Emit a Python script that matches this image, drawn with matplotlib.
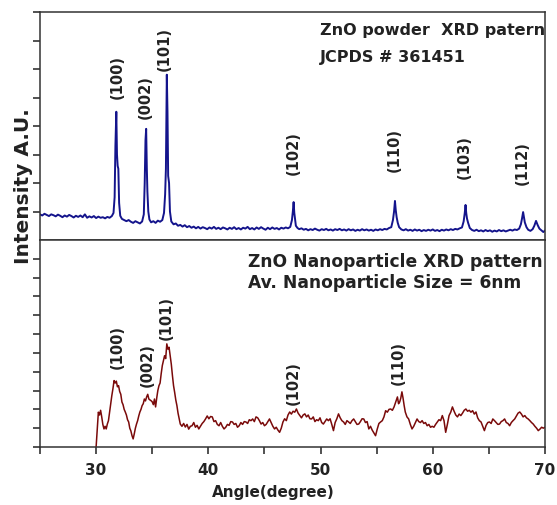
import matplotlib
matplotlib.use("Agg")
import matplotlib.pyplot as plt

# ---------------- data ----------------
top_x = [25.0, 25.2, 25.4, 25.6, 25.8, 26.0, 26.2, 26.4, 26.6, 26.8, 27.0, 27.2, 27.4, 27.6, 27.8,
         28.0, 28.2, 28.4, 28.6, 28.8, 29.0, 29.2, 29.4, 29.6, 29.8, 30.0, 30.2, 30.4, 30.6, 30.8,
         31.0, 31.2, 31.4, 31.55, 31.65, 31.72, 31.80, 31.86, 31.92, 31.98, 32.05, 32.15, 32.3, 32.5,
         32.7, 32.9, 33.1, 33.3, 33.5, 33.7, 33.9, 34.1, 34.25, 34.33, 34.40, 34.46, 34.52, 34.57,
         34.65, 34.75, 34.9, 35.1, 35.3, 35.5, 35.7, 35.9, 36.05, 36.15, 36.22, 36.30, 36.36, 36.42,
         36.50, 36.58, 36.7, 36.9, 37.1, 37.3, 37.5, 37.7, 37.9, 38.1, 38.3, 38.5, 38.7, 38.9, 39.1,
         39.3, 39.5, 39.7, 39.9, 40.1, 40.3, 40.5, 40.7, 40.9, 41.1, 41.3, 41.5, 41.7, 41.9, 42.1,
         42.3, 42.5, 42.7, 42.9, 43.1, 43.3, 43.5, 43.7, 43.9, 44.1, 44.3, 44.5, 44.7, 44.9, 45.1,
         45.3, 45.5, 45.7, 45.9, 46.1, 46.3, 46.5, 46.7, 46.9, 47.1, 47.3, 47.45, 47.53, 47.60, 47.66,
         47.72, 47.80, 47.95, 48.1, 48.3, 48.5, 48.7, 48.9, 49.1, 49.3, 49.5, 49.7, 49.9, 50.1, 50.3,
         50.5, 50.7, 50.9, 51.1, 51.3, 51.5, 51.7, 51.9, 52.1, 52.3, 52.5, 52.7, 52.9, 53.1, 53.3,
         53.5, 53.7, 53.9, 54.1, 54.3, 54.5, 54.7, 54.9, 55.1, 55.3, 55.5, 55.7, 55.9, 56.1, 56.3,
         56.45, 56.55, 56.63, 56.70, 56.78, 56.88, 57.0, 57.2, 57.4, 57.6, 57.8, 58.0, 58.2, 58.4,
         58.6, 58.8, 59.0, 59.2, 59.4, 59.6, 59.8, 60.0, 60.2, 60.4, 60.6, 60.8, 61.0, 61.2, 61.4,
         61.6, 61.8, 62.0, 62.2, 62.4, 62.6, 62.75, 62.85, 62.92, 62.98, 63.05, 63.15, 63.3, 63.5,
         63.7, 63.9, 64.1, 64.3, 64.5, 64.7, 64.9, 65.1, 65.3, 65.5, 65.7, 65.9, 66.1, 66.3, 66.5,
         66.7, 66.9, 67.1, 67.3, 67.5, 67.7, 67.85, 67.95, 68.05, 68.12, 68.2, 68.35, 68.5, 68.7,
         68.9, 69.05, 69.2, 69.35, 69.5, 69.7, 69.85, 70.0]
top_y = [0.90, 0.86, 0.92, 0.88, 0.84, 0.90, 0.87, 0.83, 0.89, 0.85, 0.80, 0.86, 0.82, 0.88, 0.84,
         0.79, 0.85, 0.81, 0.86, 0.80, 0.90, 0.78, 0.83, 0.79, 0.84, 0.77, 0.82, 0.78, 0.80, 0.76,
         0.81, 0.78, 0.84, 0.95, 1.50, 3.30, 4.50, 3.00, 2.60, 2.50, 1.30, 0.85, 0.74, 0.70,
         0.66, 0.70, 0.64, 0.60, 0.66, 0.62, 0.58, 0.65, 0.90, 2.00, 3.50, 3.90, 2.50, 1.70,
         1.00, 0.72, 0.62, 0.66, 0.60, 0.68, 0.64, 0.70, 0.95, 1.60, 2.50, 5.80, 4.50, 2.25,
         2.00, 1.00, 0.65, 0.55, 0.58, 0.50, 0.53, 0.47, 0.52, 0.45, 0.49, 0.43, 0.47, 0.41, 0.46,
         0.40, 0.45, 0.42, 0.38, 0.44, 0.40, 0.46, 0.39, 0.43, 0.38, 0.44, 0.41, 0.37, 0.43, 0.39,
         0.45, 0.38, 0.42, 0.37, 0.43, 0.40, 0.46, 0.38, 0.42, 0.37, 0.44, 0.39, 0.45, 0.40, 0.36,
         0.43, 0.38, 0.44, 0.39, 0.42, 0.37, 0.43, 0.40, 0.44, 0.41, 0.46, 0.70, 1.00, 1.33, 0.95,
         0.75, 0.50, 0.42, 0.38, 0.41, 0.36, 0.39, 0.34, 0.38, 0.35, 0.40, 0.36, 0.33, 0.38, 0.35,
         0.39, 0.34, 0.37, 0.33, 0.38, 0.35, 0.39, 0.34, 0.37, 0.33, 0.38, 0.34, 0.37, 0.32, 0.36,
         0.33, 0.38, 0.34, 0.37, 0.33, 0.36, 0.32, 0.37, 0.34, 0.38, 0.35, 0.39, 0.37, 0.42, 0.45,
         0.70, 1.00, 1.37, 1.05, 0.80, 0.60, 0.45, 0.37, 0.34, 0.38, 0.33, 0.36, 0.32, 0.37,
         0.33, 0.36, 0.31, 0.35, 0.32, 0.36, 0.33, 0.37, 0.32, 0.35, 0.31, 0.36, 0.33, 0.37, 0.34,
         0.38, 0.35, 0.39, 0.37, 0.41, 0.44, 0.65, 0.95, 1.23, 0.95, 0.75, 0.60, 0.42, 0.35,
         0.32, 0.36, 0.31, 0.34, 0.30, 0.35, 0.31, 0.34, 0.29, 0.33, 0.30, 0.35, 0.31, 0.34, 0.30,
         0.33, 0.36, 0.33, 0.37, 0.35, 0.40, 0.55, 0.75, 0.98, 0.80, 0.62, 0.45, 0.36, 0.32,
         0.38, 0.50, 0.67, 0.52, 0.40, 0.33, 0.28, 0.33]

bot_x = [30.00, 30.10, 30.20, 30.30, 30.40, 30.50, 30.60, 30.70, 30.80, 30.90, 31.00, 31.10, 31.20,
         31.30, 31.40, 31.50, 31.60, 31.70, 31.80, 31.90, 32.00, 32.10, 32.20, 32.30, 32.40, 32.50,
         32.60, 32.70, 32.80, 32.90, 33.00, 33.10, 33.20, 33.30, 33.40, 33.50, 33.60, 33.70, 33.80,
         33.90, 34.00, 34.10, 34.20, 34.30, 34.40, 34.50, 34.60, 34.70, 34.80, 34.90, 35.00, 35.10,
         35.20, 35.30, 35.40, 35.50, 35.60, 35.70, 35.80, 35.90, 36.00, 36.10, 36.20, 36.30, 36.40,
         36.50, 36.60, 36.70, 36.80, 36.90, 37.00, 37.10, 37.20, 37.30, 37.40, 37.50, 37.65, 37.80,
         37.95, 38.10, 38.25, 38.40, 38.55, 38.70, 38.85, 39.00, 39.15, 39.30, 39.45, 39.60, 39.75,
         39.90, 40.05, 40.20, 40.35, 40.50, 40.65, 40.80, 40.95, 41.10, 41.25, 41.40, 41.55, 41.70,
         41.85, 42.00, 42.15, 42.30, 42.45, 42.60, 42.75, 42.90, 43.05, 43.20, 43.35, 43.50, 43.65,
         43.80, 43.95, 44.10, 44.25, 44.40, 44.55, 44.70, 44.85, 45.00, 45.15, 45.30, 45.45, 45.60,
         45.75, 45.90, 46.05, 46.20, 46.35, 46.50, 46.65, 46.80, 46.95, 47.10, 47.25, 47.40, 47.55,
         47.70, 47.85, 48.00, 48.15, 48.30, 48.45, 48.60, 48.75, 48.90, 49.05, 49.20, 49.35, 49.50,
         49.65, 49.80, 49.95, 50.10, 50.25, 50.40, 50.55, 50.70, 50.85, 51.00, 51.15, 51.30, 51.45,
         51.60, 51.75, 51.90, 52.05, 52.20, 52.35, 52.50, 52.65, 52.80, 52.95, 53.10, 53.25, 53.40,
         53.55, 53.70, 53.85, 54.00, 54.15, 54.30, 54.45, 54.60, 54.75, 54.90, 55.05, 55.20, 55.35,
         55.50, 55.65, 55.80, 55.95, 56.10, 56.25, 56.40, 56.55, 56.70, 56.85, 56.95, 57.05, 57.15,
         57.25, 57.35, 57.45, 57.55, 57.70, 57.85, 58.00, 58.15, 58.30, 58.45, 58.60, 58.75, 58.90,
         59.05, 59.20, 59.35, 59.50, 59.65, 59.80, 59.95, 60.10, 60.25, 60.40, 60.55, 60.70, 60.85,
         61.00, 61.15, 61.30, 61.45, 61.60, 61.75, 61.90, 62.05, 62.20, 62.35, 62.50, 62.65, 62.80,
         62.95, 63.10, 63.25, 63.40, 63.55, 63.70, 63.85, 64.00, 64.15, 64.30, 64.45, 64.60, 64.75,
         64.90, 65.05, 65.20, 65.35, 65.50, 65.65, 65.80, 65.95, 66.10, 66.25, 66.40, 66.55, 66.70,
         66.85, 67.00, 67.15, 67.30, 67.45, 67.60, 67.75, 67.90, 68.05, 68.20, 68.35, 68.50, 68.65,
         68.80, 68.95, 69.10, 69.25, 69.40, 69.55, 69.70, 69.85, 70.00]
bot_y = [0.00, 0.90, 1.85, 1.70, 1.95, 1.60, 1.20, 0.96, 1.10, 0.96, 1.22, 1.40, 1.85,
         2.30, 2.73, 3.10, 3.53, 3.40, 3.50, 3.20, 3.26, 2.95, 2.80, 2.39, 2.25, 2.00,
         1.86, 1.70, 1.45, 1.33, 1.00, 0.85, 0.60, 0.43, 0.70, 1.00, 1.22, 1.40, 1.65,
         1.86, 2.00, 2.20, 2.30, 2.55, 2.45, 2.66, 2.80, 2.55, 2.50, 2.46, 2.40, 2.25,
         2.55, 2.13, 2.60, 3.00, 3.26, 3.40, 3.90, 4.33, 4.60, 4.85, 4.70, 5.48, 5.20,
         5.30, 4.86, 4.40, 3.80, 3.26, 2.90, 2.50, 2.20, 1.80, 1.50, 1.22, 1.10, 1.25,
         1.06, 1.20, 0.95, 1.10, 1.13, 1.30, 1.05, 1.15, 0.96, 1.10, 1.25, 1.35, 1.49,
         1.65, 1.50, 1.62, 1.60, 1.35, 1.40, 1.20, 1.13, 1.30, 1.10, 0.96, 1.05, 1.20,
         1.15, 1.35, 1.33, 1.20, 1.25, 1.05, 1.13, 1.30, 1.20, 1.35, 1.33, 1.25, 1.45,
         1.40, 1.49, 1.35, 1.60, 1.55, 1.40, 1.22, 1.30, 1.13, 1.20, 1.35, 1.49, 1.30,
         1.10, 0.96, 1.05, 0.90, 0.78, 1.00, 1.33, 1.50, 1.40, 1.70, 1.86, 1.75, 1.90,
         1.85, 2.02, 1.80, 1.67, 1.55, 1.70, 1.76, 1.60, 1.70, 1.50, 1.49, 1.60, 1.35,
         1.45, 1.40, 1.55, 1.30, 1.22, 1.35, 1.49, 1.40, 1.50, 1.20, 0.87, 1.30, 1.50,
         1.76, 1.55, 1.40, 1.33, 1.20, 1.40, 1.33, 1.25, 1.40, 1.49, 1.35, 1.20, 1.22,
         1.35, 1.50, 1.49, 1.30, 1.35, 0.96, 1.10, 0.90, 0.75, 0.60, 0.95, 1.25, 1.33,
         1.40, 1.60, 1.93, 1.85, 2.00, 2.02, 1.95, 2.13, 2.40, 2.66, 2.30, 2.39, 2.60,
         2.93, 2.60, 2.20, 1.86, 1.60, 1.49, 1.20, 0.96, 1.10, 1.30, 1.49, 1.35, 1.30,
         1.40, 1.25, 1.30, 1.13, 1.20, 1.05, 1.10, 1.05, 1.20, 1.33, 1.45, 1.40, 1.67,
         1.40, 0.78, 1.20, 1.67, 1.85, 2.13, 1.90, 1.70, 1.60, 1.75, 1.67, 1.80, 1.95,
         2.02, 1.90, 1.95, 1.85, 1.93, 1.75, 1.86, 1.55, 1.40, 1.33, 1.10, 0.87, 1.15,
         1.30, 1.33, 1.25, 1.49, 1.40, 1.30, 1.20, 1.22, 1.35, 1.40, 1.49, 1.30, 1.25,
         1.13, 1.30, 1.40, 1.49, 1.65, 1.80, 1.86, 1.75, 1.60, 1.67, 1.55, 1.49, 1.40,
         1.30, 1.22, 1.10, 1.00, 0.87, 0.95, 1.05, 1.00, 1.05]

top_labels = ["(100)", "(002)", "(101)", "(102)", "(110)", "(103)", "(112)"]
top_label_x = [31.9, 34.4, 36.1, 47.6, 56.6, 62.8, 68.0]
top_label_y = [5.75, 5.05, 6.74, 3.09, 3.19, 2.95, 2.74]

bot_labels = ["(100)", "(002)", "(101)", "(102)", "(110)"]
bot_label_x = [31.9, 34.55, 36.25, 47.6, 56.96]
bot_label_y = [5.37, 4.41, 6.91, 3.46, 4.52]

x_major = [30, 40, 50, 60, 70]
x_minor = [25, 35, 45, 55, 65]

# ---------------- figure ----------------
plt.rcParams['font.family'] = ['DejaVu Sans']
TXT = '#222222'

fig = plt.figure(figsize=(5.57, 5.06), dpi=100)
L, R = 40 / 557, 545 / 557
ax1 = fig.add_axes([L, 1 - 241 / 506, R - L, (241 - 13) / 506])
ax2 = fig.add_axes([L, 1 - 448 / 506, R - L, (448 - 241) / 506])

ax1.plot(top_x, top_y, color='#14148c', lw=1.4)
ax2.plot(bot_x, bot_y, color='#7a0a0a', lw=1.1)

ax1.set_xlim(25, 70)
ax2.set_xlim(25, 70)
ax1.set_ylim(0, 8)
ax2.set_ylim(0, 11)

ax1.set_xticks([])
ax1.set_yticks([1, 2, 3, 4, 5, 6, 7, 8])
ax1.set_yticklabels([])
ax2.set_yticks([0, 1, 2, 3, 4, 5, 6, 7, 8, 9, 10])
ax2.set_yticklabels([])
ax2.set_xticks(x_major)
ax2.set_xticklabels([str(v) for v in x_major], fontsize=11, fontweight='bold', color=TXT)
ax2.set_xticks(x_minor, minor=True)

for ax in (ax1, ax2):
    ax.tick_params(axis='both', which='both', direction='out', length=5, width=1.1, color=TXT)
    for s in ax.spines.values():
        s.set_color('#333333')
        s.set_linewidth(1.1)
ax2.tick_params(axis='x', which='major', pad=6)

for t, x, y in zip(top_labels, top_label_x, top_label_y):
    ax1.text(x, y, t, rotation=90, ha='center', va='center', fontsize=10.5, fontweight='bold', color=TXT)
for t, x, y in zip(bot_labels, bot_label_x, bot_label_y):
    ax2.text(x, y, t, rotation=90, ha='center', va='center', fontsize=10.5, fontweight='bold', color=TXT)

ax1.text(0.554, 0.925, "ZnO powder  XRD patern", transform=ax1.transAxes,
         ha='left', va='center', fontsize=11.5, fontweight='bold', color=TXT)
ax1.text(0.554, 0.807, "JCPDS # 361451", transform=ax1.transAxes,
         ha='left', va='center', fontsize=11.5, fontweight='bold', color=TXT)
ax2.text(0.412, 0.899, "ZnO Nanoparticle XRD pattern", transform=ax2.transAxes,
         ha='left', va='center', fontsize=12.3, fontweight='bold', color=TXT)
ax2.text(0.412, 0.797, "Av. Nanoparticle Size = 6nm", transform=ax2.transAxes,
         ha='left', va='center', fontsize=12.3, fontweight='bold', color=TXT)

fig.text(24 / 557, 1 - 186 / 506, "Intensity A.U.", rotation=90, ha='center', va='center',
         fontsize=14.5, fontweight='bold', color=TXT)
fig.text(273 / 557, 1 - 493 / 506, "Angle(degree)", ha='center', va='center',
         fontsize=11, fontweight='bold', color=TXT)

fig.savefig("out.png", dpi=100)
